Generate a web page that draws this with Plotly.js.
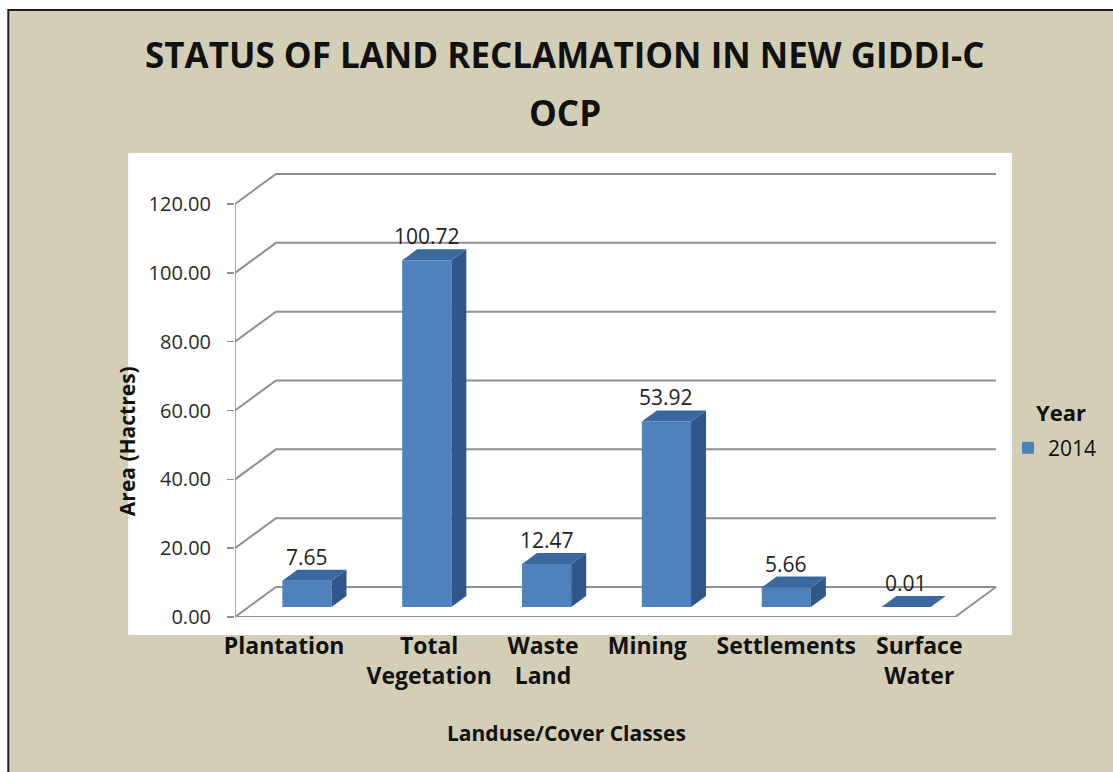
<!DOCTYPE html>
<html>
<head>
<meta charset="utf-8">
<script src="https://cdn.plot.ly/plotly-3.0.1.min.js"></script>
<style>
  html, body { margin: 0; padding: 0; background: #ffffff; }
  #chart { width: 1113px; height: 772px; }
</style>
</head>
<body>
<div id="chart"></div>
<script>
// Chart data
const categories = ['Plantation', 'Total<br>Vegetation', 'Waste<br>Land', 'Mining', 'Settlements', 'Surface<br>Water'];
const area2014 = [7.65, 100.72, 12.47, 53.92, 5.66, 0.01];
const yTicks = [0, 20, 40, 60, 80, 100, 120];
const seriesName = '2014';
const legendTitle = 'Year';
const titleLines = ['STATUS OF LAND RECLAMATION IN NEW GIDDI-C', 'OCP'];

// Pixel geometry of the fake 3D box (front plane, back wall, bar plane)
const FIG_W = 1113;
const FIG_H = 772;
const FRONT_LEFT = 235;
const FRONT_RIGHT = 955;
const FRONT_TOP = 204;     // where 120 sits on the front axis
const FRONT_BOTTOM = 617;  // where 0 sits on the front axis
const WALL_DX = 41;
const WALL_DY = 30;
const BAR_DX = 12;         // bar front face is pushed back a bit
const BAR_DY = 10;
const DEPTH_DX = 15;       // bar depth
const DEPTH_DY = 11;
const PAD = 4;
const Y_MAX = 120;
const BAR_GAP = 0.59;
// Excel spreads the category labels a little unevenly
const LABEL_NUDGE = [-0.09, 0.12, 0.07, -0.06, 0.1, 0.21];

const FONT = '"Open Sans", Lato, sans-serif';
const FRONT_COLOR = '#4F81BD';
const TOP_COLOR = '#3C68A0';
const SIDE_COLOR = '#30568A';
const GRID_COLOR = '#8f8f8f';

const margin = {
  l: FRONT_LEFT,
  r: FIG_W - (FRONT_RIGHT + WALL_DX) - PAD,
  t: FRONT_TOP - WALL_DY - PAD,
  b: FIG_H - FRONT_BOTTOM,
};
const W = FIG_W - margin.l - margin.r;
const H = FIG_H - margin.t - margin.b;
const catPx = (FRONT_RIGHT - FRONT_LEFT) / categories.length;
const yPx = (FRONT_BOTTOM - FRONT_TOP) / Y_MAX;

// pixel -> paper helpers for the decoration
const pX = (x) => (x - margin.l) / W;
const pY = (y) => (FIG_H - margin.b - y) / H;

const xIdx = categories.map((c, i) => i);

const trace = {
  type: 'bar',
  name: seriesName,
  x: xIdx,
  y: area2014,
  xaxis: 'x2',
  yaxis: 'y2',
  marker: { color: FRONT_COLOR, line: { width: 0 } },
  hoverinfo: 'y',
};

const shapes = [];

// tan chart area with dark border
shapes.push({
  type: 'rect', layer: 'below', xref: 'paper', yref: 'paper',
  x0: pX(8), x1: pX(FIG_W + 20), y0: pY(FIG_H + 20), y1: pY(10),
  fillcolor: '#D4CEB7', line: { color: '#1e1e1e', width: 2 },
});
// white plot area
shapes.push({
  type: 'rect', layer: 'below', xref: 'paper', yref: 'paper',
  x0: pX(128), x1: pX(1013), y0: pY(635), y1: pY(153),
  fillcolor: '#ffffff', line: { width: 0 },
});

// gridlines: side wall diagonal + back wall line
const frontLen = FRONT_RIGHT - FRONT_LEFT;
yTicks.forEach((v) => {
  shapes.push({
    type: 'path', layer: 'below', xref: 'x', yref: 'y',
    xsizemode: 'pixel', xanchor: -0.5, ysizemode: 'pixel', yanchor: v,
    path: `M0,0 L${WALL_DX},${WALL_DY} L${WALL_DX + frontLen},${WALL_DY}`,
    line: { color: GRID_COLOR, width: 2 },
  });
});
// floor front edge and right diagonal
shapes.push({
  type: 'path', layer: 'below', xref: 'x', yref: 'y',
  xsizemode: 'pixel', xanchor: -0.5, ysizemode: 'pixel', yanchor: 0,
  path: `M0,0 L${frontLen},0 L${frontLen + WALL_DX},${WALL_DY}`,
  line: { color: GRID_COLOR, width: 2 },
});
// front value axis line
shapes.push({
  type: 'line', layer: 'below', xref: 'x', yref: 'y',
  x0: -0.5, x1: -0.5, y0: 0, y1: Y_MAX,
  line: { color: GRID_COLOR, width: 1.5 },
});

// 3D side and top faces of each bar
const hw = 0.5 * (1 - BAR_GAP) * catPx;
area2014.forEach((v, i) => {
  const h = v * yPx;
  shapes.push({
    type: 'path', xref: 'x2', yref: 'y2',
    xsizemode: 'pixel', xanchor: i, ysizemode: 'pixel', yanchor: 0,
    path: `M${hw},0 L${hw + DEPTH_DX},${DEPTH_DY} L${hw + DEPTH_DX},${h + DEPTH_DY} L${hw},${h} Z`,
    fillcolor: SIDE_COLOR, line: { width: 0 },
  });
  shapes.push({
    type: 'path', xref: 'x2', yref: 'y2',
    xsizemode: 'pixel', xanchor: i, ysizemode: 'pixel', yanchor: 0,
    path: `M${-hw},${h} L${-hw + DEPTH_DX},${h + DEPTH_DY} L${hw + DEPTH_DX},${h + DEPTH_DY} L${hw},${h} Z`,
    fillcolor: TOP_COLOR, line: { width: 0 },
  });
});

// value labels above bars
const annotations = area2014.map((v, i) => ({
  xref: 'x2', yref: 'y2', x: i, y: v,
  text: v.toFixed(2), showarrow: false,
  yanchor: 'bottom', yshift: DEPTH_DY - 3,
  font: { family: FONT, size: 21, color: '#222222' },
}));

// chart title, one annotation per line
annotations.push({
  xref: 'paper', yref: 'paper', x: pX(565), y: pY(55),
  text: titleLines[0], showarrow: false, xanchor: 'center', yanchor: 'middle',
  font: { family: FONT, size: 35, color: '#111111', weight: 'bold' },
});
annotations.push({
  xref: 'paper', yref: 'paper', x: pX(565), y: pY(112),
  text: titleLines[1], showarrow: false, xanchor: 'center', yanchor: 'middle',
  font: { family: FONT, size: 35, color: '#111111', weight: 'bold' },
});

annotations.push({
  xref: 'paper', yref: 'paper', x: pX(127), y: pY(441),
  text: 'Area (Hactres)', textangle: -90, showarrow: false,
  xanchor: 'center', yanchor: 'middle',
  font: { family: FONT, size: 21, color: '#111111', weight: 'bold' },
});
annotations.push({
  xref: 'paper', yref: 'paper', x: pX(567), y: pY(733),
  text: 'Landuse/Cover Classes', showarrow: false,
  xanchor: 'center', yanchor: 'middle',
  font: { family: FONT, size: 21, color: '#111111', weight: 'bold' },
});
// legend heading
annotations.push({
  xref: 'paper', yref: 'paper', x: pX(1062), y: pY(412),
  text: legendTitle, showarrow: false,
  xanchor: 'center', yanchor: 'middle',
  font: { family: FONT, size: 22, color: '#111111', weight: 'bold' },
});

const layout = {
  width: FIG_W,
  height: FIG_H,
  margin: margin,
  paper_bgcolor: '#ffffff',
  plot_bgcolor: 'rgba(0,0,0,0)',
  bargap: BAR_GAP,
  showlegend: true,
  xaxis: {
    domain: [0, 1],
    range: [-0.5, -0.5 + W / catPx],
    tickvals: xIdx.map((i) => i + LABEL_NUDGE[i]),
    ticktext: categories,
    tickangle: 0,
    ticks: '', showline: false, showgrid: false, zeroline: false,
    tickfont: { family: FONT, size: 23, color: '#111111', weight: 'bold' },
    ticklabelstandoff: 13,
    fixedrange: true,
  },
  yaxis: {
    domain: [0, 1],
    range: [0, H / yPx],
    tickvals: yTicks,
    ticktext: yTicks.map((v) => v.toFixed(2)),
    ticks: 'outside', ticklen: 7, tickcolor: GRID_COLOR, tickwidth: 1.5,
    showline: false, showgrid: false, zeroline: false,
    tickfont: { family: FONT, size: 20, color: '#2a2a2a' },
    ticklabelstandoff: 12,
    fixedrange: true,
  },
  xaxis2: {
    domain: [BAR_DX / W, 1],
    range: [-0.5, -0.5 + (W - BAR_DX) / catPx],
    anchor: 'y2', visible: false, fixedrange: true,
  },
  yaxis2: {
    domain: [BAR_DY / H, 1],
    range: [0, (H - BAR_DY) / yPx],
    anchor: 'x2', visible: false, fixedrange: true,
  },
  legend: {
    x: pX(1008), y: pY(448), xanchor: 'left', yanchor: 'middle',
    bgcolor: 'rgba(0,0,0,0)',
    font: { family: FONT, size: 21, color: '#111111' },
  },
  shapes: shapes,
  annotations: annotations,
};

Plotly.newPlot('chart', [trace], layout, { displayModeBar: false, staticPlot: true });
</script>
</body>
</html>
